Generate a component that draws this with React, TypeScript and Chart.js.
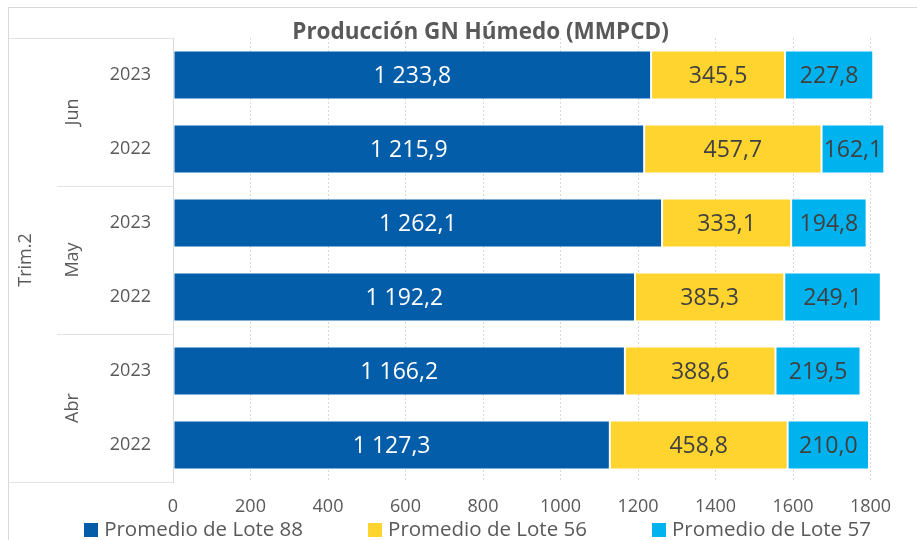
import React, { useEffect, useRef } from "react";
import { Chart, registerables } from "chart.js";

Chart.register(...registerables);

const TITLE = "Producción GN Húmedo (MMPCD)";
const QUARTER = "Trim.2";
const MONTHS = ["Jun", "May", "Abr"];
const YEARS = ["2023", "2022", "2023", "2022", "2023", "2022"];
const CATEGORIES = ["Jun 2023", "Jun 2022", "May 2023", "May 2022", "Abr 2023", "Abr 2022"];
const SERIES_NAMES = ["Promedio de Lote 88", "Promedio de Lote 56", "Promedio de Lote 57"];
const LOTE_88 = [1233.8, 1215.9, 1262.1, 1192.2, 1166.2, 1127.3];
const LOTE_56 = [345.5, 457.7, 333.1, 385.3, 388.6, 458.8];
const LOTE_57 = [227.8, 162.1, 194.8, 249.1, 219.5, 210.0];
const X_TICKS = [0, 200, 400, 600, 800, 1000, 1200, 1400, 1600, 1800];
const X_MAX = 1920;

const COLORS = ["#035DA9", "#FFD42E", "#00B2EE"];
const LABEL_COLORS = ["#FFFFFF", "#404040", "#404040"];
const FONT = "'Open Sans', Lato, sans-serif";
const TEXT = "#595959";
const LINE = "#d9d9d9";

const fmt = (v: number) => {
  const s = v.toFixed(1);
  const [i, d] = s.split(".");
  return i.replace(/\B(?=(\d{3})+(?!\d))/g, " ") + "," + d;
};

const overlay = {
  id: "overlay",
  afterDraw(chart: any) {
    const ctx = chart.ctx as CanvasRenderingContext2D;
    const area = chart.chartArea;
    const ys = chart.scales.y;
    ctx.save();

    // outer frame
    ctx.strokeStyle = LINE;
    ctx.lineWidth = 1;
    ctx.beginPath();
    ctx.moveTo(8.5, 540);
    ctx.lineTo(8.5, 7.5);
    ctx.lineTo(917, 7.5);
    ctx.stroke();

    // category box
    const top = Math.round(area.top) + 0.5;
    const bot = Math.round(area.bottom) + 0.5;
    const left = Math.round(area.left);
    ctx.strokeStyle = "#e3e3e3";
    ctx.beginPath();
    ctx.moveTo(8.5, top);
    ctx.lineTo(left, top);
    ctx.moveTo(8.5, bot);
    ctx.lineTo(left, bot);
    const half = (ys.getPixelForValue(1) - ys.getPixelForValue(0)) / 2;
    for (let g = 1; g < MONTHS.length; g++) {
      const yy = Math.round(ys.getPixelForValue(g * 2) - half) + 0.5;
      ctx.moveTo(57, yy);
      ctx.lineTo(left, yy);
    }
    ctx.stroke();

    // year labels
    ctx.fillStyle = TEXT;
    ctx.font = `18px ${FONT}`;
    ctx.textAlign = "right";
    ctx.textBaseline = "middle";
    YEARS.forEach((yr, i) => {
      ctx.fillText(yr, 151, ys.getPixelForValue(i));
    });

    // month labels (rotated)
    ctx.textAlign = "center";
    MONTHS.forEach((m, g) => {
      const cy = (ys.getPixelForValue(g * 2) + ys.getPixelForValue(g * 2 + 1)) / 2;
      ctx.save();
      ctx.translate(73, cy);
      ctx.rotate(-Math.PI / 2);
      ctx.fillText(m, 0, 0);
      ctx.restore();
    });
    // quarter label
    ctx.save();
    ctx.translate(26, (area.top + area.bottom) / 2);
    ctx.rotate(-Math.PI / 2);
    ctx.fillText(QUARTER, 0, 0);
    ctx.restore();

    // data labels
    ctx.font = `23px ${FONT}`;
    ctx.textAlign = "center";
    chart.data.datasets.forEach((ds: any, di: number) => {
      const meta = chart.getDatasetMeta(di);
      ctx.fillStyle = LABEL_COLORS[di];
      meta.data.forEach((el: any, i: number) => {
        const p = el.getProps(["x", "y", "base"], true);
        ctx.fillText(fmt(ds.data[i]), (p.x + p.base) / 2, p.y + 1);
      });
    });

    // title
    ctx.font = `bold 22.5px ${FONT}`;
    ctx.fillStyle = TEXT;
    ctx.fillText(TITLE, 480.5, 32.5);

    // legend
    ctx.font = `20.5px ${FONT}`;
    ctx.textAlign = "left";
    const box = 14;
    const gapText = 6;
    const gapItem = 65;
    const widths = SERIES_NAMES.map((n) => box + gapText + ctx.measureText(n).width);
    const total = widths.reduce((a, b) => a + b, 0) + gapItem * (widths.length - 1);
    let x = 477.5 - total / 2;
    const ly = 530;
    SERIES_NAMES.forEach((n, i) => {
      ctx.fillStyle = COLORS[i];
      ctx.fillRect(Math.round(x), ly - box / 2, box, box);
      ctx.fillStyle = TEXT;
      ctx.fillText(n, x + box + gapText, ly);
      x += widths[i] + gapItem;
    });

    ctx.restore();
  },
};

export default function App() {
  const ref = useRef<HTMLCanvasElement | null>(null);

  useEffect(() => {
    if (!ref.current) return;
    const series = [LOTE_88, LOTE_56, LOTE_57];
    const chart = new Chart(ref.current, {
      type: "bar",
      data: {
        labels: CATEGORIES,
        datasets: series.map((d, i) => ({
          label: SERIES_NAMES[i],
          data: d,
          backgroundColor: COLORS[i],
          borderColor: "rgba(255,255,255,0.35)",
          borderWidth: 1,
          borderSkipped: false,
          barPercentage: 0.66,
          categoryPercentage: 1,
        })),
      },
      options: {
        indexAxis: "y",
        responsive: false,
        animation: false,
        layout: { padding: { left: 173, top: 38, right: 0, bottom: 0 } },
        plugins: {
          legend: { display: false },
          title: { display: false },
          tooltip: { enabled: false },
        },
        scales: {
          x: {
            stacked: true,
            min: 0,
            max: X_MAX,
            afterFit: (s: any) => {
              s.height = 58;
            },
            afterBuildTicks: (s: any) => {
              s.ticks = X_TICKS.map((v) => ({ value: v }));
            },
            grid: { color: LINE, drawTicks: false, lineWidth: 1 },
            border: { display: false, dash: [2, 2] },
            ticks: {
              color: TEXT,
              font: { family: FONT, size: 18 },
              padding: 14,
              maxRotation: 0,
              autoSkip: false,
              callback: (v: any) => String(v),
            },
          },
          y: {
            stacked: true,
            afterFit: (s: any) => {
              s.width = 0;
            },
            grid: { display: false },
            border: { display: true, color: LINE },
            ticks: { display: false },
          },
        },
      },
      plugins: [overlay],
    });
    return () => chart.destroy();
  }, []);

  return (
    <canvas
      ref={ref}
      width={917}
      height={540}
      style={{ position: "fixed", left: 0, top: 0, width: 917, height: 540, display: "block", background: "#fff" }}
    />
  );
}
